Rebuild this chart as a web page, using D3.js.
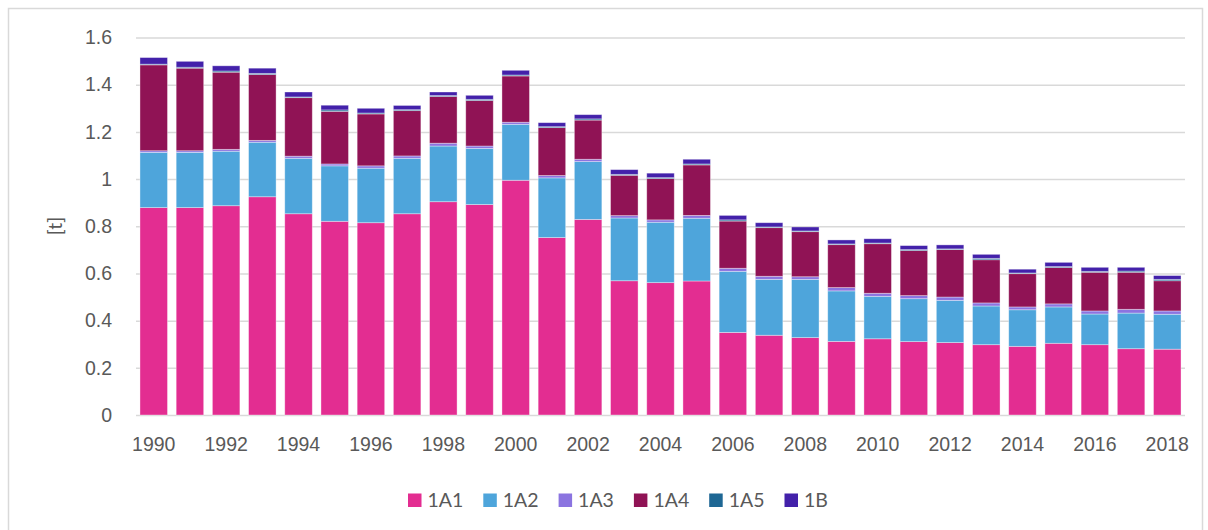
<!DOCTYPE html>
<meta charset="utf-8">
<head>
  <style>
    body { margin: 0; background: #fff; }
    svg { display: block; font-family: Lato, 'Open Sans', sans-serif; }
    .tick text { fill: #595959; font-size: 19.5px; }
  </style>
</head>
<body>
<svg id="chart" width="1208" height="530"></svg>

<script src="https://d3js.org/d3.v7.min.js"></script>
<script>

// categories
var years = d3.range(1990, 2019);
var seriesNames = ["1A1", "1A2", "1A3", "1A4", "1A5", "1B"];
var colors = ["#e32d91", "#4ea5db", "#8b74e0", "#901355", "#1e6794", "#4321aa"];

// series values [t]
var v1A1 = [0.879, 0.879, 0.887, 0.925, 0.853, 0.821, 0.815, 0.853, 0.904, 0.892,
            0.995, 0.752, 0.829, 0.569, 0.561, 0.568, 0.350, 0.338, 0.328, 0.312,
            0.323, 0.311, 0.307, 0.298, 0.291, 0.304, 0.298, 0.281, 0.279];
var v1A2 = [0.234, 0.234, 0.231, 0.231, 0.235, 0.235, 0.231, 0.235, 0.236, 0.238,
            0.237, 0.253, 0.245, 0.266, 0.256, 0.266, 0.259, 0.237, 0.247, 0.214,
            0.180, 0.182, 0.179, 0.164, 0.155, 0.154, 0.130, 0.151, 0.148];
var v1A3 = [0.007, 0.007, 0.008, 0.008, 0.009, 0.008, 0.010, 0.010, 0.012, 0.010,
            0.009, 0.010, 0.010, 0.010, 0.010, 0.012, 0.013, 0.013, 0.011, 0.014,
            0.013, 0.013, 0.014, 0.013, 0.012, 0.013, 0.013, 0.016, 0.014];
var v1A4 = [0.364, 0.350, 0.327, 0.279, 0.248, 0.223, 0.220, 0.192, 0.198, 0.193,
            0.196, 0.203, 0.166, 0.171, 0.175, 0.214, 0.200, 0.206, 0.191, 0.182,
            0.210, 0.191, 0.201, 0.183, 0.141, 0.154, 0.164, 0.157, 0.128];
var v1A5 = [0.003, 0.004, 0.005, 0.005, 0.003, 0.006, 0.004, 0.004, 0.004, 0.005,
            0.004, 0.004, 0.005, 0.004, 0.004, 0.004, 0.005, 0.003, 0.003, 0.003,
            0.003, 0.004, 0.003, 0.006, 0.003, 0.004, 0.004, 0.005, 0.006];
var v1B  = [0.028, 0.025, 0.022, 0.022, 0.021, 0.020, 0.020, 0.018, 0.015, 0.017,
            0.020, 0.017, 0.018, 0.020, 0.019, 0.020, 0.019, 0.018, 0.017, 0.017,
            0.018, 0.017, 0.017, 0.017, 0.016, 0.018, 0.017, 0.016, 0.016];

// tick labels
var yTicks = [0, 0.2, 0.4, 0.6, 0.8, 1, 1.2, 1.4, 1.6];
var xTickYears = years.filter(function(d) { return d % 2 === 0; });

var allValues = [v1A1, v1A2, v1A3, v1A4, v1A5, v1B];
var table = years.map(function(yr, i) {
  var row = { year: yr };
  seriesNames.forEach(function(s, k) { row[s] = allValues[k][i]; });
  return row;
});

var svg = d3.select("#chart");

// outer frame of the figure
svg.append("rect")
    .attr("x", 8.5).attr("y", 8.5)
    .attr("width", 1194).attr("height", 540)
    .style("fill", "none")
    .style("stroke", "#d9d9d9")
    .style("stroke-width", 1.5);

var x = d3.scaleBand()
    .domain(years)
    .range([136, 1185])
    .paddingInner(0.24)
    .paddingOuter(0.11);

var y = d3.scaleLinear()
    .domain([0, 1.6])
    .range([415, 37.5]);

// gridlines + y labels
var yAxis = d3.axisLeft(y)
    .tickValues(yTicks)
    .tickSize(-(1185 - 136))
    .tickPadding(24)
    .tickFormat(function(d) { return String(+d.toFixed(1)); });

var gy = svg.append("g")
    .attr("transform", "translate(136,0)")
    .call(yAxis);
gy.select(".domain").remove();
gy.selectAll(".tick line")
    .style("stroke", "#d9d9d9")
    .style("stroke-width", 1.5);
gy.selectAll(".tick text").attr("x", -24);

// x labels
var xAxis = d3.axisBottom(x)
    .tickValues(xTickYears)
    .tickSize(0)
    .tickPadding(22);

var gx = svg.append("g")
    .attr("transform", "translate(0,415)")
    .call(xAxis);
gx.select(".domain").remove();

// axis title
svg.append("text")
    .attr("transform", "translate(62,226) rotate(-90)")
    .attr("text-anchor", "middle")
    .style("fill", "#595959")
    .style("font-size", "19.5px")
    .text("[t]");

// stacked bars
var stacked = d3.stack().keys(seriesNames)(table);

svg.append("g")
  .selectAll("g")
  .data(stacked)
  .enter().append("g")
    .style("fill", function(d, i) { return colors[i]; })
  .selectAll("rect")
  .data(function(d) { return d; })
  .enter().append("rect")
    .attr("x", function(d) { return x(d.data.year); })
    .attr("width", x.bandwidth())
    .attr("y", function(d) { return y(d[1]); })
    .attr("height", function(d) { return y(d[0]) - y(d[1]); })
    .style("stroke", "#ffffff")
    .style("stroke-opacity", 0.45)
    .style("stroke-width", 0.8);

// legend
var legend = svg.append("g")
  .selectAll("g")
  .data(seriesNames)
  .enter().append("g")
    .attr("transform", function(d, i) { return "translate(" + (408 + i * 75.3) + ",493.5)"; });

legend.append("rect")
    .attr("width", 13.5)
    .attr("height", 13.5)
    .style("fill", function(d, i) { return colors[i]; });

legend.append("text")
    .attr("x", 19.5)
    .attr("y", 13.5)
    .style("fill", "#595959")
    .style("font-size", "19.5px")
    .text(function(d) { return d; });

</script>
</body>
